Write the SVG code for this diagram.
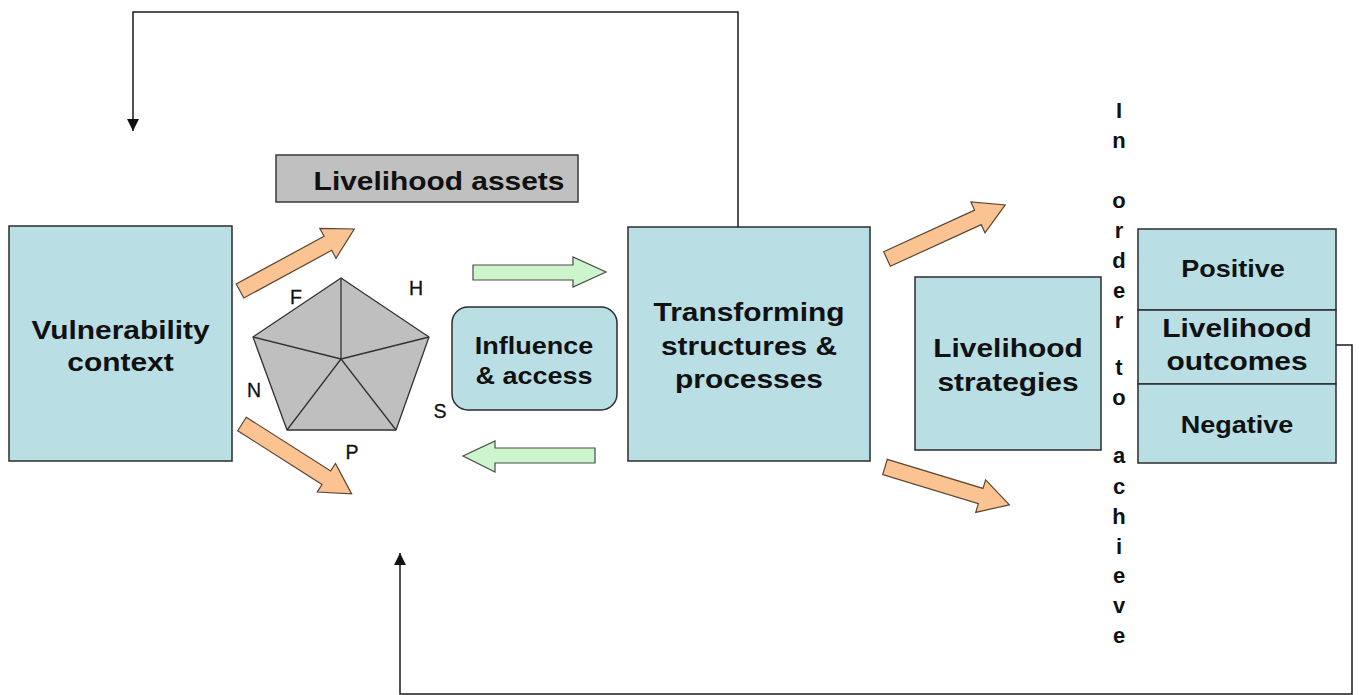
<svg xmlns="http://www.w3.org/2000/svg" width="1359" height="695" viewBox="0 0 1359 695">
  <style>
    .box { fill: #b9dfe4; stroke: #2b2b2b; stroke-width: 1.5; }
    .grey { fill: #c0c0c0; stroke: #3a3a3a; stroke-width: 1.5; }
    .lbl { font-family: "Liberation Sans", Arial, sans-serif; font-weight: bold; font-size: 26px; fill: #111; text-anchor: middle; }
    .sm { font-size: 23.5px; }
    .cap { font-family: "Liberation Sans", Arial, sans-serif; font-size: 19.5px; fill: #111; text-anchor: middle; stroke: #111; stroke-width: 0.3; }
    .vert { font-family: "Liberation Sans", Arial, sans-serif; font-weight: bold; font-size: 22px; fill: #111; text-anchor: middle; }
    .orange { fill: #fac391; stroke: #5b4632; stroke-width: 1.2; }
    .green { fill: #ccf5cc; stroke: #4a4a4a; stroke-width: 1.2; }
    .wire { fill: none; stroke: #1a1a1a; stroke-width: 1.5; }
    .pent { fill: #bfbfbf; stroke: #333; stroke-width: 1.3; stroke-linejoin: round; }
  </style>
  <defs>
    <marker id="tri" viewBox="0 0 10 10" refX="10" refY="5" markerWidth="8" markerHeight="8" markerUnits="strokeWidth" orient="auto">
      <path d="M0,0 L10,5 L0,10 Z" fill="#111"/>
    </marker>
    <!-- block arrow, tail at origin pointing along +x -->
    <path id="blk" d="M0,-8 H100 V-17 L130,0 L100,17 V8 H0 Z"/>
  </defs>
  <rect width="1359" height="695" fill="#ffffff"/>

  <g id="connectors">
    <path class="wire" d="M738,227 V12 H133 V131" marker-end="url(#tri)"/>
    <path class="wire" d="M1336,345 H1352 V694 H400 V553" marker-end="url(#tri)"/>
    <use href="#blk" class="orange" transform="translate(240,291) rotate(-28.5)"/>
    <use href="#blk" class="orange" transform="translate(242,424) rotate(32.5)"/>
    <use href="#blk" class="orange" transform="translate(887,259) rotate(-24.6)"/>
    <use href="#blk" class="orange" transform="translate(885,467) rotate(16.9)"/>
    <path class="green" d="M473,265 H573 V257 L606,272 L573,287 V280 H473 Z"/>
    <path class="green" d="M595,448 H495 V441 L463,456 L495,472 V463 H595 Z"/>
  </g>

  <g id="vulnerability">
    <rect class="box" x="9" y="226" width="223" height="235"/>
    <text class="lbl" transform="translate(120.5 0) scale(1.15 1)"><tspan x="0" y="339">Vulnerability</tspan><tspan x="0" y="371">context</tspan></text>
  </g>

  <g id="assets">
    <rect class="grey" x="276" y="155" width="302" height="47"/>
    <text class="lbl" transform="translate(439 0) scale(1.15 1)"><tspan x="0" y="190">Livelihood assets</tspan></text>
  </g>

  <g id="pentagon">
    <polygon class="pent" points="341,278 429,337 396,430 287,430 253,337"/>
    <path class="pent" fill="none" d="M341,359 L341,278 M341,359 L429,337 M341,359 L396,430 M341,359 L287,430 M341,359 L253,337"/>
    <text class="cap" x="296" y="304">F</text>
    <text class="cap" x="416" y="295">H</text>
    <text class="cap" x="254" y="397">N</text>
    <text class="cap" x="440" y="418">S</text>
    <text class="cap" x="352" y="459">P</text>
  </g>

  <g id="influence">
    <rect class="box" x="452" y="307" width="165" height="103" rx="16" ry="16"/>
    <text class="lbl sm" transform="translate(534 0) scale(1.15 1)"><tspan x="0" y="354">Influence</tspan><tspan x="0" y="384">&amp; access</tspan></text>
  </g>

  <g id="transforming">
    <rect class="box" x="628" y="227" width="242" height="234"/>
    <text class="lbl" transform="translate(749 0) scale(1.15 1)"><tspan x="0" y="321">Transforming</tspan><tspan x="0" y="355">structures &amp;</tspan><tspan x="0" y="388">processes</tspan></text>
  </g>

  <g id="strategies">
    <rect class="box" x="915" y="277" width="186" height="173"/>
    <text class="lbl" transform="translate(1008 0) scale(1.15 1)"><tspan x="0" y="357">Livelihood</tspan><tspan x="0" y="391">strategies</tspan></text>
  </g>

  <g id="in-order-to-achieve">
    <text class="vert"><tspan x="1119" y="118">I</tspan><tspan x="1119" y="148">n</tspan><tspan x="1119" y="208">o</tspan><tspan x="1119" y="238">r</tspan><tspan x="1119" y="268">d</tspan><tspan x="1119" y="298">e</tspan><tspan x="1119" y="328">r</tspan><tspan x="1119" y="375">t</tspan><tspan x="1119" y="405">o</tspan><tspan x="1119" y="463">a</tspan><tspan x="1119" y="494">c</tspan><tspan x="1119" y="524">h</tspan><tspan x="1119" y="554">i</tspan><tspan x="1119" y="583">e</tspan><tspan x="1119" y="613">v</tspan><tspan x="1119" y="643">e</tspan></text>
  </g>

  <g id="outcomes">
    <rect class="box" x="1138" y="229" width="198" height="81"/>
    <rect class="box" x="1138" y="310" width="198" height="74"/>
    <rect class="box" x="1138" y="384" width="198" height="79"/>
    <text class="lbl sm" transform="translate(1233 0) scale(1.15 1)"><tspan x="0" y="277">Positive</tspan></text>
    <text class="lbl" transform="translate(1237 0) scale(1.15 1)"><tspan x="0" y="337">Livelihood</tspan><tspan x="0" y="370">outcomes</tspan></text>
    <text class="lbl sm" transform="translate(1237 0) scale(1.15 1)"><tspan x="0" y="433">Negative</tspan></text>
  </g>
</svg>
